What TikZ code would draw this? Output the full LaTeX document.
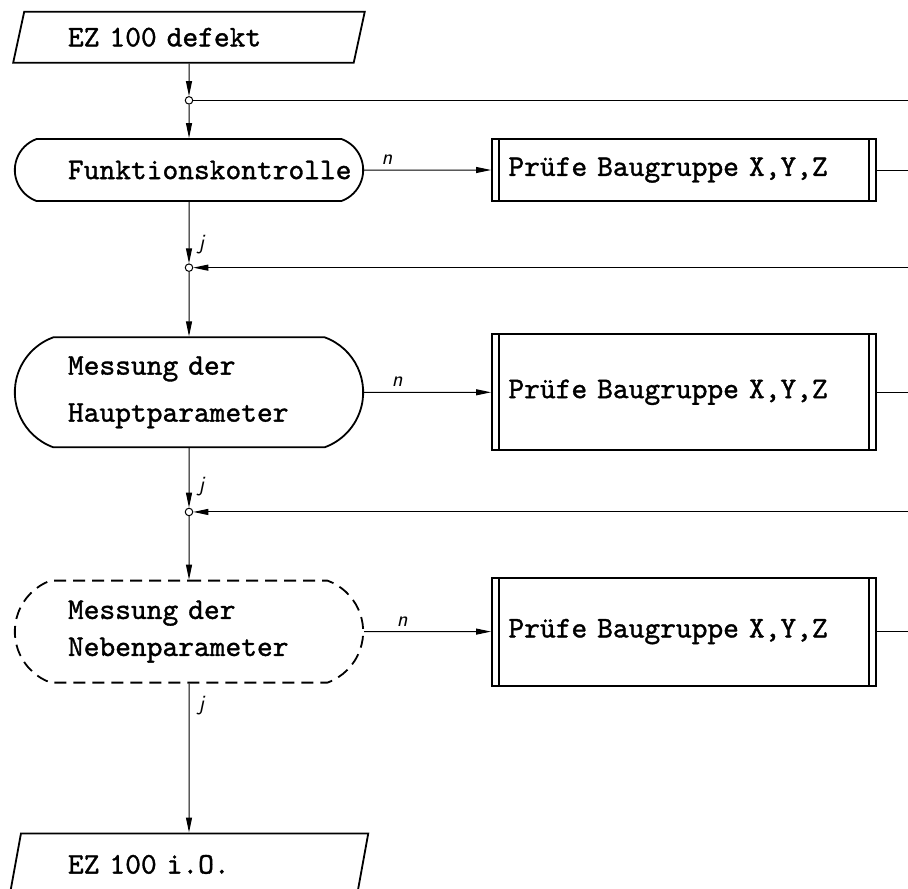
\documentclass[tikz,border=0pt]{standalone}
\usepackage{fontspec}
\usepackage{tikz}
\usetikzlibrary{shapes.geometric, shapes.misc, arrows.meta, positioning}
\newfontfamily\typewriter[FakeBold=1.2]{lmmono10-regular.otf}
\tikzstyle{io} = [trapezium, trapezium left angle=72, trapezium right angle=108, trapezium stretches=true, minimum width=353pt, minimum height=51pt, text width=242pt, align=left, draw=black, line width=1.8pt, font=\typewriter\fontsize{30}{47}\selectfont]
\tikzstyle{test} = [rounded rectangle, rounded rectangle arc length=140, minimum width=355pt, text width=242pt, align=left, draw=black, line width=1.8pt, font=\typewriter\fontsize{30}{47}\selectfont]
\tikzstyle{sub} = [rectangle, minimum width=384pt, text width=351pt, align=left, draw=black, line width=1.8pt, font=\typewriter\fontsize{30}{47}\selectfont, path picture={\draw[line width=1.8pt] ([xshift=7pt]path picture bounding box.south west) -- ([xshift=7pt]path picture bounding box.north west) ([xshift=-7pt]path picture bounding box.south east) -- ([xshift=-7pt]path picture bounding box.north east);}]
\tikzstyle{junction} = [circle, draw=black, fill=white, inner sep=0pt, minimum size=7.5pt, line width=1pt]
\tikzstyle{arrow} = [line width=1pt, -{Triangle[length=15pt,width=6pt]}]
\tikzstyle{line} = [line width=1pt]
\tikzstyle{lab} = [font=\sffamily\itshape\fontsize{22}{22}\selectfont, inner sep=3pt]

\begin{document}
\begin{tikzpicture}[x=1pt, y=-1pt]
\useasboundingbox (0,0) rectangle (908,889);
\coordinate (edge) at (908,0);

\node (funk) [test, minimum height=62pt] at (189,170) {Funktionskontrolle};
\node (m1) [junction, above=33.5pt of funk] {};
\node (start) [io, above=32.5pt of m1] {EZ 100 defekt};
\node (m2) [junction, below=61.5pt of funk] {};
\node (haupt) [test, minimum height=110pt, below=64.5pt of m2] {Messung der\\Hauptparameter};
\node (m3) [junction, below=59.5pt of haupt] {};
\node (neben) [test, dash pattern=on 12pt off 7pt, minimum height=102pt, below=63.5pt of m3] {Messung der\\[-10pt]Nebenparameter};
\node (stop) [io, minimum width=360pt, minimum height=62pt, below=149pt of neben] {EZ 100 i.O.};

\node (pb1) [sub, minimum height=62pt, right=127pt of funk] {Prüfe Baugruppe X,Y,Z};
\node (pb2) [sub, minimum height=116pt, right=127pt of haupt] {Prüfe Baugruppe X,Y,Z};
\node (pb3) [sub, minimum height=108pt, right=127pt of neben] {Prüfe Baugruppe X,Y,Z};

\draw [arrow] (start) -- (m1);
\draw [line] (m1 -| edge) -- (m1);
\draw [arrow] (m1) -- (funk);
\draw [arrow] (funk) -- node[lab, pos=0.18, above=2pt] {n} (pb1);
\draw [line] (pb1) -- (pb1 -| edge);
\draw [arrow] (funk) -- node[lab, pos=0.7, right=6pt] {j} (m2);
\draw [arrow] (m2 -| edge) -- (m2);
\draw [arrow] (m2) -- (haupt);
\draw [arrow] (haupt) -- node[lab, pos=0.26, above=2pt] {n} (pb2);
\draw [line] (pb2) -- (pb2 -| edge);
\draw [arrow] (haupt) -- node[lab, pos=0.65, right=6pt] {j} (m3);
\draw [arrow] (m3 -| edge) -- (m3);
\draw [arrow] (m3) -- (neben);
\draw [arrow] (neben) -- node[lab, pos=0.3, above=2pt] {n} (pb3);
\draw [line] (pb3) -- (pb3 -| edge);
\draw [arrow] (neben) -- node[lab, pos=0.15, right=6pt] {j} (stop);
\end{tikzpicture}
\end{document}
